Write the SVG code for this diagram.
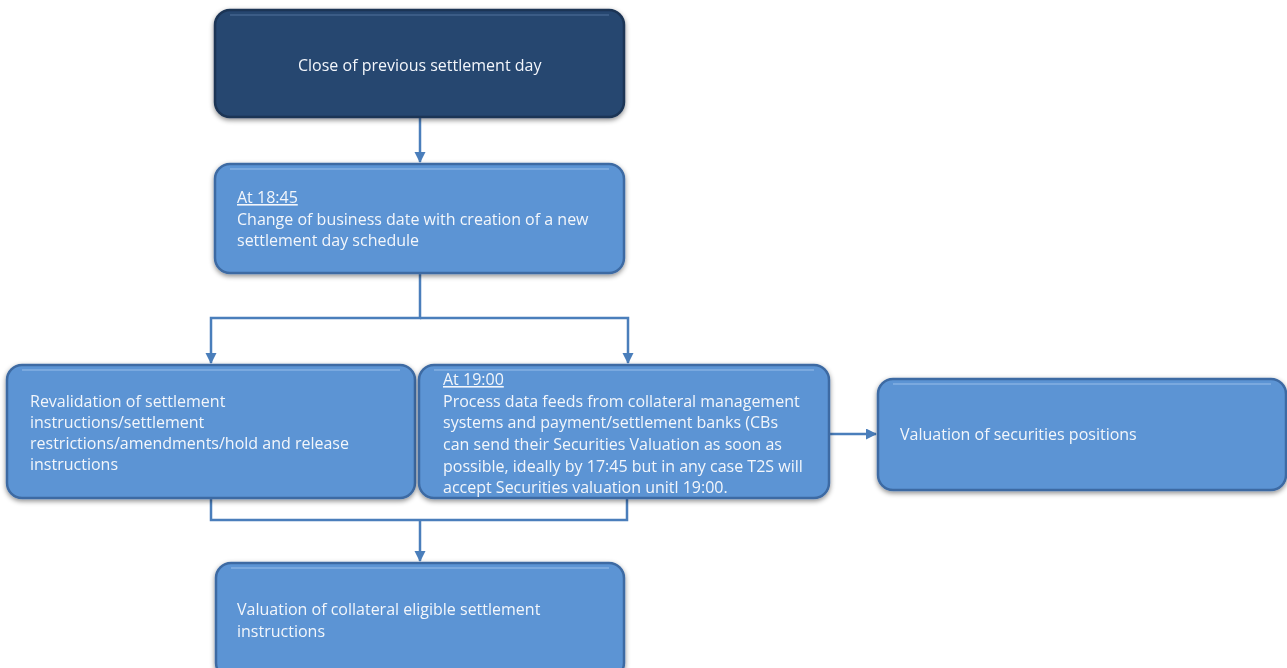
<svg xmlns="http://www.w3.org/2000/svg" width="1287" height="668" viewBox="0 0 1287 668">
<defs>
<style>
.box{fill:#5b94d4;stroke:#3d6aa3;stroke-width:2.5}
.dark{fill:#254670;stroke:#1b3455;stroke-width:2.5}
.hl{fill:none;stroke:#8fb7e6;stroke-width:2;opacity:0.6}
.hld{fill:none;stroke:#4a6a95;stroke-width:2;opacity:0.6}
text{font-family:"Open Sans","Liberation Sans",sans-serif;font-size:16px;fill:#f3f6fb}
.u{text-decoration:underline}
.con{fill:none;stroke:#4a7ebb;stroke-width:2.5}
</style>
<filter id="sh" x="-10%" y="-10%" width="120%" height="130%">
<feDropShadow dx="0" dy="2" stdDeviation="2.5" flood-color="#000" flood-opacity="0.45"/>
</filter>
<marker id="ar" markerWidth="12" markerHeight="12" refX="10" refY="5.5" orient="auto" markerUnits="userSpaceOnUse">
<path d="M0,0 L11,5.5 L0,11 z" fill="#4a7ebb"/>
</marker>
</defs>
<g id="connectors">
<path class="con" d="M420,117 V162" marker-end="url(#ar)"/>
<path class="con" d="M420,273 V318 H211 V363" marker-end="url(#ar)"/>
<path class="con" d="M420,318 H628 V363" marker-end="url(#ar)"/>
<path class="con" d="M211,498 V520 H627 V498"/>
<path class="con" d="M420,520 V561" marker-end="url(#ar)"/>
<path class="con" d="M829,434 H876" marker-end="url(#ar)"/>
</g>
<g id="n1" filter="url(#sh)">
<rect class="dark" x="215" y="10" width="409" height="107" rx="15"/>
<path class="hld" d="M230,15 H609"/>
<text x="298" y="71">Close of previous settlement day</text>
</g>
<g id="n2" filter="url(#sh)">
<rect class="box" x="215" y="164" width="409" height="109" rx="15"/>
<path class="hl" d="M230,169 H609"/>
<text x="237" y="203" class="u">At 18:45</text>
<text x="237" y="225">Change of business date with creation of a new</text>
<text x="237" y="246">settlement day schedule</text>
</g>
<g id="n3" filter="url(#sh)">
<rect class="box" x="7" y="365" width="408" height="133" rx="15"/>
<path class="hl" d="M22,370 H400"/>
<text x="30" y="407">Revalidation of settlement</text>
<text x="30" y="428">instructions/settlement</text>
<text x="30" y="449">restrictions/amendments/hold and release</text>
<text x="30" y="470">instructions</text>
</g>
<g id="n4" filter="url(#sh)">
<rect class="box" x="419" y="365" width="410" height="133" rx="15"/>
<path class="hl" d="M434,370 H814"/>
<text x="443" y="385" class="u">At 19:00</text>
<text x="443" y="407">Process data feeds from collateral management</text>
<text x="443" y="428">systems and payment/settlement banks (CBs</text>
<text x="443" y="450">can send their Securities Valuation as soon as</text>
<text x="443" y="472">possible, ideally by 17:45 but in any case T2S will</text>
<text x="443" y="493">accept Securities valuation unitl 19:00.</text>
</g>
<g id="n5" filter="url(#sh)">
<rect class="box" x="878" y="379" width="408" height="111" rx="15"/>
<path class="hl" d="M893,384 H1271"/>
<text x="900" y="440">Valuation of securities positions</text>
</g>
<g id="n6" filter="url(#sh)">
<rect class="box" x="216" y="563" width="408" height="115" rx="15"/>
<path class="hl" d="M231,568 H609"/>
<text x="237" y="615">Valuation of collateral eligible settlement</text>
<text x="237" y="637">instructions</text>
</g>
</svg>
